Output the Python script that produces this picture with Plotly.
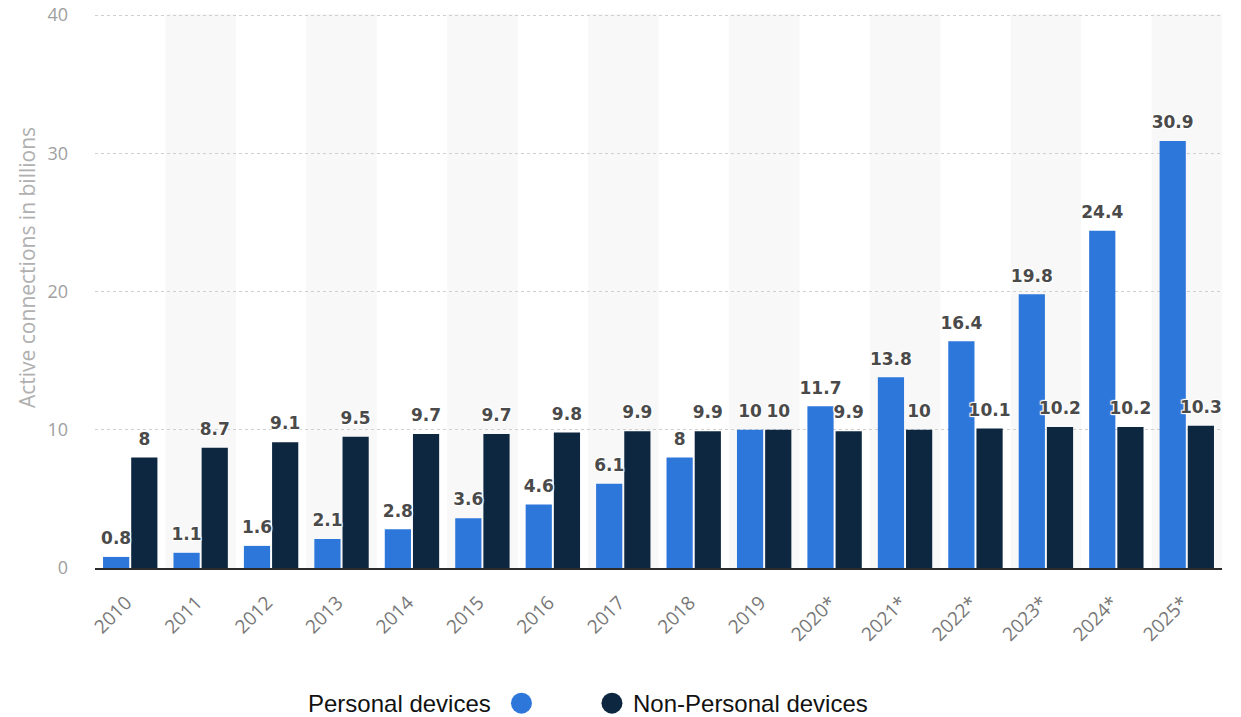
import plotly.graph_objects as go

years = ["2010", "2011", "2012", "2013", "2014", "2015", "2016", "2017", "2018", "2019",
         "2020*", "2021*", "2022*", "2023*", "2024*", "2025*"]
personal = [0.8, 1.1, 1.6, 2.1, 2.8, 3.6, 4.6, 6.1, 8, 10, 11.7, 13.8, 16.4, 19.8, 24.4, 30.9]
non_personal = [8, 8.7, 9.1, 9.5, 9.7, 9.7, 9.8, 9.9, 9.9, 10, 9.9, 10, 10.1, 10.2, 10.2, 10.3]
y_ticks = [0, 10, 20, 30, 40]
series_names = ["Personal devices", "Non-Personal devices"]
y_title = "Active connections in billions"

c_personal = "#2d77db"
c_nonpersonal = "#0e2741"
label_font = dict(family="DejaVu Sans", size=17, color="#4a4a4a", weight="bold",
                  shadow="1px 1px 1px #fff, -1px -1px 1px #fff, 1px -1px 1px #fff, -1px 1px 1px #fff")

fig = go.Figure()
series = [(series_names[0], personal, c_personal, "p"),
          (series_names[1], non_personal, c_nonpersonal, "n")]
for name, vals, col, grp in series:
    fig.add_trace(go.Bar(
        x=years, y=vals, name=name, marker=dict(color=col, line=dict(width=0)),
        offsetgroup=grp, showlegend=False,
        hovertemplate="%{x}: %{y}<extra>" + name + "</extra>",
    ))
# value labels (grouped scatter text aligned with the bars)
for name, vals, col, grp in series:
    fig.add_trace(go.Scatter(
        x=years, y=vals, mode="markers+text", offsetgroup=grp,
        text=[f"{v:g}" for v in vals], textposition="top center", textfont=label_font,
        marker=dict(size=12, color="rgba(0,0,0,0)"), cliponaxis=False,
        showlegend=False, hoverinfo="skip",
    ))

# alternating column shading
for i, _ in enumerate(years):
    if i % 2 == 1:
        fig.add_shape(type="rect", xref="x", yref="paper", x0=i - 0.5, x1=i + 0.5,
                      y0=0, y1=1, fillcolor="#f8f8f8", line=dict(width=0), layer="below")

# y-axis title (placed like the reference, slightly above centre)
fig.add_annotation(xref="paper", yref="paper", x=-0.0603, y=0.5415, text=y_title,
                   textangle=-90, showarrow=False, xanchor="center", yanchor="middle",
                   font=dict(family="Open Sans", size=21, color="#b0b0b0"))

# custom legend (marker right of first label, left of second)
leg_y = -0.244
fig.add_annotation(xref="paper", yref="paper", x=0.3532, y=leg_y, text=series_names[0],
                   showarrow=False, xanchor="right", yanchor="middle",
                   font=dict(family="Liberation Sans", size=24, color="#111"))
fig.add_annotation(xref="paper", yref="paper", x=0.4756, y=leg_y, text=series_names[1],
                   showarrow=False, xanchor="left", yanchor="middle",
                   font=dict(family="Liberation Sans", size=24, color="#111"))
for xc, col in [(0.3784, c_personal), (0.4587, c_nonpersonal)]:
    fig.add_shape(type="circle", xref="paper", yref="paper",
                  xsizemode="pixel", ysizemode="pixel", xanchor=xc, yanchor=leg_y,
                  x0=-10.5, x1=10.5, y0=-10.5, y1=10.5, fillcolor=col, line=dict(width=0))

fig.update_layout(
    width=1241, height=717,
    margin=dict(l=95, r=19, t=14, b=149),
    paper_bgcolor="white", plot_bgcolor="white",
    barmode="group", bargap=0.2, bargroupgap=0.07,
    scattermode="group", scattergap=0.2,
    font=dict(family="Open Sans"),
    xaxis=dict(type="category", tickangle=-45, showline=True, linecolor="#2b2b2b",
               linewidth=2, ticks="", showgrid=False, automargin=False,
               ticklabelstandoff=14, ticklabelshift=-4,
               tickfont=dict(family="Open Sans", size=19, color="#777777")),
    yaxis=dict(range=[0, 40.08], tickvals=y_ticks, showgrid=True, gridcolor="#cfcfcf",
               griddash="dot", gridwidth=1, zeroline=False, showline=False, ticks="",
               ticklabelstandoff=26, automargin=False,
               tickfont=dict(family="Open Sans", size=18, color="#a0a0a0")),
)

fig.write_html("out.html", config={"displayModeBar": False},
               post_script="document.body.style.margin='0';document.body.style.overflow='hidden';")
